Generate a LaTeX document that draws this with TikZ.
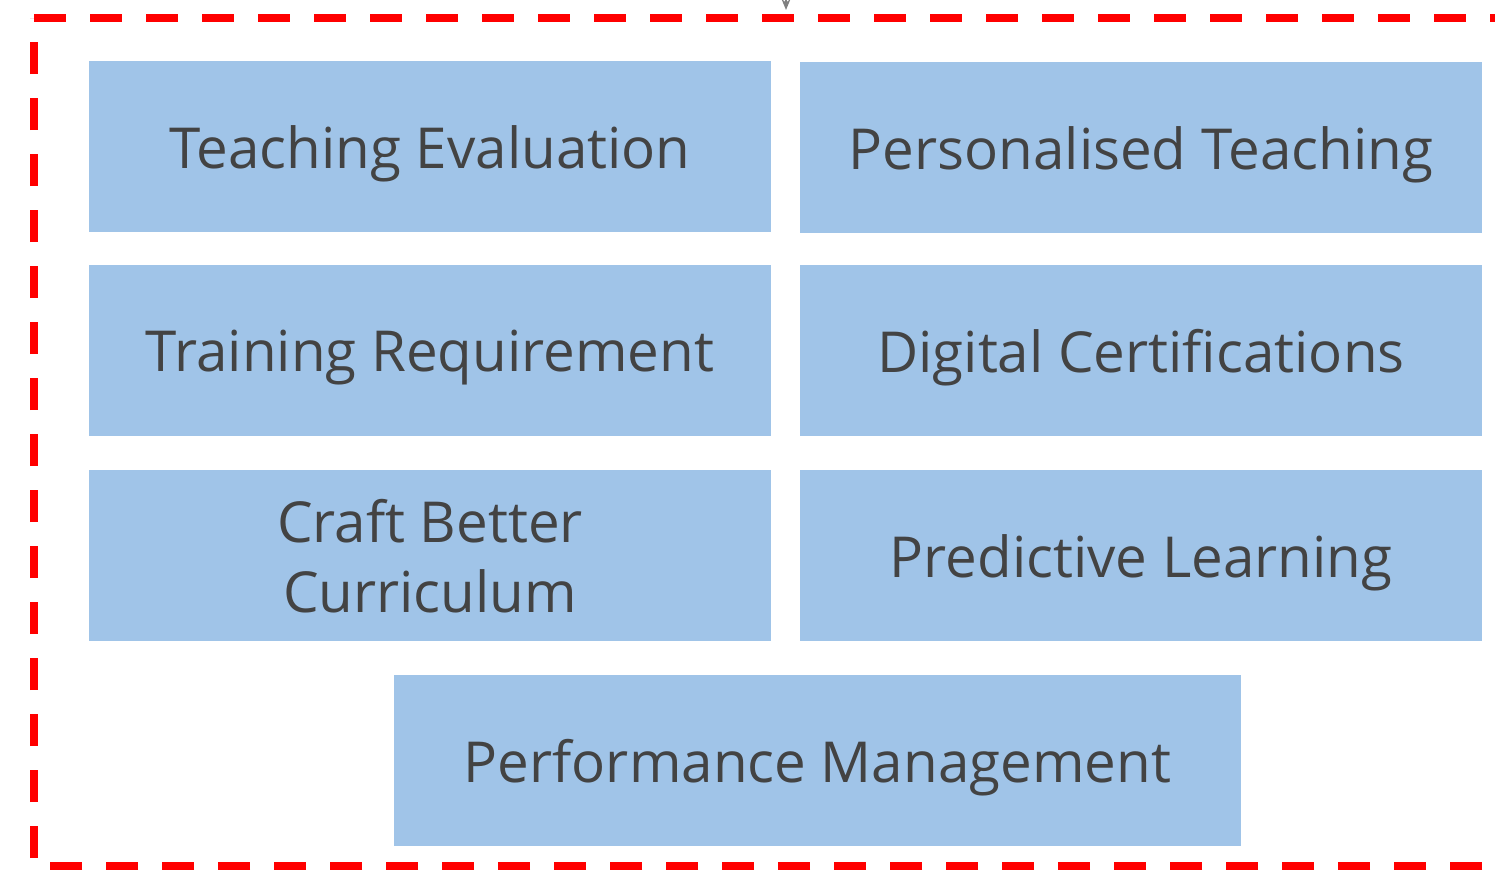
\documentclass[tikz,border=0pt]{standalone}
\usepackage{fontspec}
\setmainfont{Open Sans}
\usetikzlibrary{arrows.meta}
\definecolor{boxblue}{HTML}{A0C4E8}
\definecolor{txt}{HTML}{434343}
\tikzset{
  card/.style={fill=boxblue, draw=none, inner sep=0pt, minimum height=171pt},
  cardtext/.style={text=txt, align=center, inner sep=0pt, font=\fontsize{56.5}{70}\selectfont},
  frame/.style={draw=red, line width=8pt, dash pattern=on 32pt off 24pt},
}
\begin{document}
\begin{tikzpicture}[x=1pt,y=-1pt]
\useasboundingbox (0,0) rectangle (1495,870);
\clip (0,0) rectangle (1495,870);
\draw[frame] (34,18) -- (1510,18) -- (1510,866) -- (34,866) -- cycle;
\node[card, minimum width=682pt, label={[cardtext, yshift=-7pt]center:Teaching Evaluation}] (te) at (430,146.5) {};
\node[card, minimum width=682pt, label={[cardtext, yshift=-7pt]center:Personalised Teaching}] (pt) at (1141,147.5) {};
\node[card, minimum width=682pt, label={[cardtext, yshift=-7pt]center:Training Requirement}] (tr) at (430,350.5) {};
\node[card, minimum width=682pt, label={[cardtext, yshift=-7pt]center:Digital Certifications}] (dc) at (1141,350.5) {};
\node[card, minimum width=682pt, label={[cardtext, yshift=-1pt]center:{Craft Better\\Curriculum}}] (cb) at (430,555.5) {};
\node[card, minimum width=682pt, label={[cardtext, yshift=-7pt]center:Predictive Learning}] (pl) at (1141,555.5) {};
\node[card, minimum width=847pt, label={[cardtext, yshift=-7pt]center:Performance Management}] (pm) at (817.5,760.5) {};
\coordinate (src) at (786,-20);
\coordinate (dst) at (786,10);
\draw[draw=gray, line width=1.5pt, -{Stealth[length=11pt,width=9pt]}] (src) -- (dst);
\end{tikzpicture}
\end{document}
